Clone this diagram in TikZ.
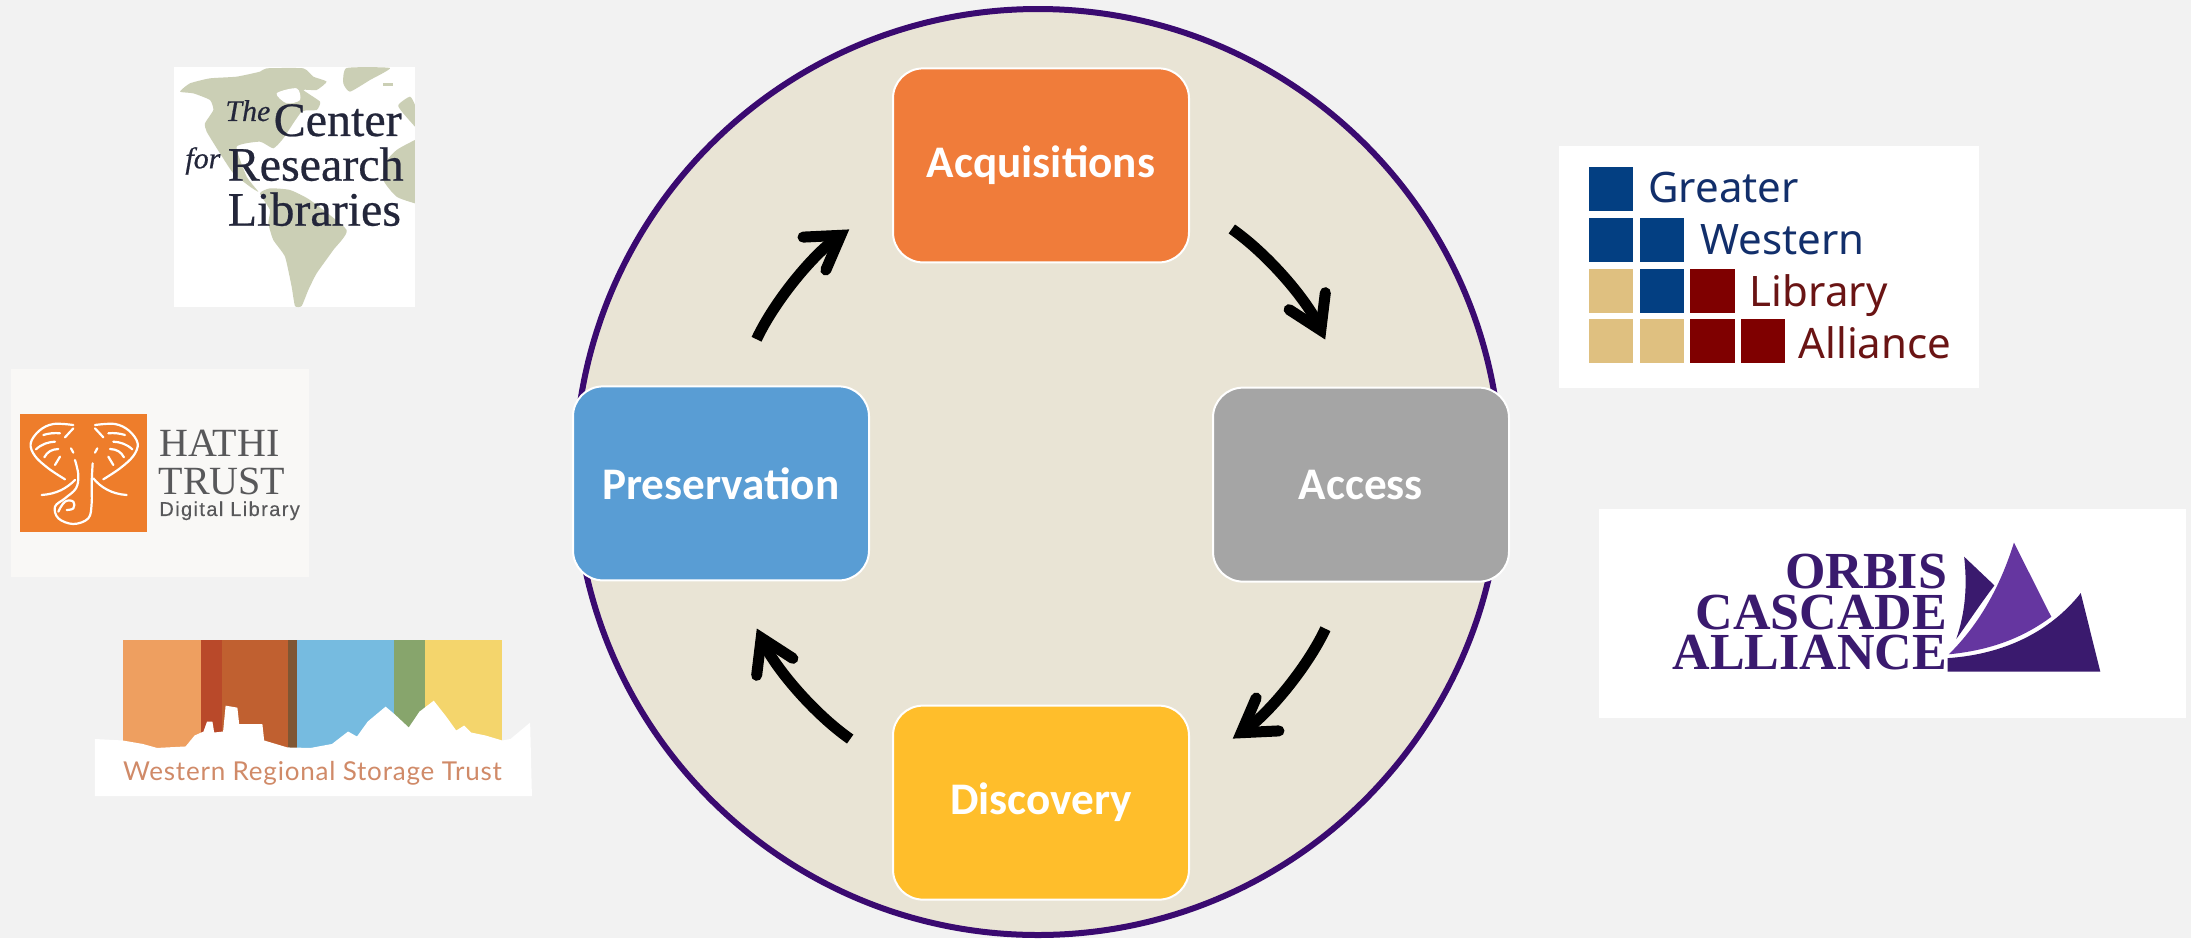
\documentclass[tikz,border=0pt]{standalone}
\usepackage{fontspec}
\setmainfont{Carlito}
\newfontfamily\serifface{Liberation Serif}
\newfontfamily\crlface[FakeBold=0.5]{Liberation Serif}
\newfontfamily\hathiface[FakeBold=0.3,LetterSpace=7]{Liberation Sans}
\newfontfamily\gwlaface{Noto Sans}
\newfontfamily\wrstface[LetterSpace=3]{Lato}
\usetikzlibrary{matrix,arrows.meta}
\definecolor{pagegray}{HTML}{F2F2F2}
\definecolor{circlefill}{HTML}{E9E4D5}
\definecolor{circleline}{HTML}{3A0A70}
\definecolor{acqorange}{HTML}{F07C3A}
\definecolor{accessgray}{HTML}{A5A5A5}
\definecolor{discyellow}{HTML}{FFBE2B}
\definecolor{presblue}{HTML}{599DD4}
\definecolor{mapgreen}{HTML}{CBCFB5}
\definecolor{crlink}{HTML}{23263A}
\definecolor{hathicard}{HTML}{F9F8F6}
\definecolor{hathiorange}{HTML}{EE7D2B}
\definecolor{hathiink}{HTML}{58585A}
\definecolor{gwlablue}{HTML}{033F82}
\definecolor{gwlatan}{HTML}{DFC080}
\definecolor{gwlared}{HTML}{7F0000}
\definecolor{gwlabluetext}{HTML}{122F6B}
\definecolor{gwlaredtext}{HTML}{6A1414}
\definecolor{orbisdark}{HTML}{3A1A6E}
\definecolor{orbislight}{HTML}{6536A0}
\definecolor{wrstink}{HTML}{D08A68}
\tikzset{
  cyclebox/.style={draw=white, line width=1pt, rounded corners=15pt, minimum width=148pt,
    minimum height=97pt, inner sep=0pt, text=white, font=\fontsize{22.6}{27}\selectfont\bfseries},
  cyclearrow/.style={line width=5.5pt, shorten <=25.5pt, shorten >=26pt,
    -{Straight Barb[length=16pt, width=20pt, line cap=round, line join=miter]}},
  logotext/.style={anchor=base west, inner sep=0pt},
  elephantline/.style={draw=white, line width=1.1pt, line cap=round, line join=round}
}
\begin{document}
\begin{tikzpicture}[x=0.5pt, y=-0.5pt]
  \useasboundingbox (0,0) rectangle (2191,938);
  \fill[pagegray] (0,0) rectangle (2191,938);
  \draw[fill=circlefill, draw=circleline, line width=3pt] (1038,472) circle [radius=463];

  % cycle of four boxes
  \matrix (m) at (1041,484) [matrix of nodes, row sep=61pt, column sep=11pt, nodes={cyclebox}]
  {
     & |[fill=acqorange]| Acquisitions & \\
    |[fill=presblue]| Preservation & & |[fill=accessgray]| Access \\
     & |[fill=discyellow]| Discovery & \\ };
  \path[cyclearrow]
  (m-1-2.-13) edge [bend left=15] (m-2-3.98)
  (m-2-3.262) edge [bend left=15] (m-3-2.13)
  (m-3-2.167) edge [bend left=15] (m-2-1.278)
  (m-2-1.82) edge [bend left=15] (m-1-2.193);

  % Center for Research Libraries
  \begin{scope}[shift={(170,60)}, scale=.3333]
    \fill[white] (12,22) rectangle (735,740);
    \fill[mapgreen] plot[smooth cycle, tension=.3] coordinates {(30,95) (60,70) (120,55) (200,50) (270,35)
      (290,25) (400,25) (430,50) (470,65) (440,90) (400,90) (450,125) (440,150) (395,155) (340,235)
      (310,265) (270,245) (200,260) (230,350) (265,395) (240,380) (190,340) (150,280) (110,215)
      (105,190) (130,150) (120,120) (70,100)};
    \fill[white] plot[smooth cycle, tension=.5] coordinates {(320,100) (380,85) (390,120) (350,130)};
    \fill[mapgreen] plot[smooth cycle, tension=.3] coordinates {(270,400) (300,385) (360,390) (420,420)
      (530,510) (490,570) (440,640) (415,690) (395,738) (375,738) (365,680) (345,590) (310,540) (295,490) (300,450)};
    \fill[mapgreen] plot[smooth cycle, tension=.3] coordinates {(530,24) (660,24) (600,60) (540,95) (520,70)};
    \fill[mapgreen] plot[smooth, tension=.4] coordinates {(735,240) (680,270) (645,310) (640,360) (680,410) (735,430)};
    \fill[mapgreen] plot[smooth, tension=.4] coordinates {(735,135) (720,110) (685,135) (700,160) (735,200)};
    \fill[mapgreen] (640,70) rectangle (670,78);
    \node[logotext, text=crlink, font=\crlface\itshape\fontsize{15}{15}\selectfont] (crlthe) at (165,183) {The};
    \node[logotext, text=crlink, font=\crlface\fontsize{24}{24}\selectfont] (crlcenter) at (310,228) {Center};
    \node[logotext, text=crlink, font=\crlface\itshape\fontsize{15}{15}\selectfont] (crlfor) at (45,325) {for};
    \node[logotext, text=crlink, font=\crlface\fontsize{24}{24}\selectfont] (crlresearch) at (172,362) {Research};
    \node[logotext, text=crlink, font=\crlface\fontsize{24}{24}\selectfont] (crllibraries) at (172,497) {Libraries};
  \end{scope}

  % HathiTrust
  \fill[hathicard] (11,369) rectangle (309,577);
  \begin{scope}[shift={(10,400)}, scale=.3333]
    \fill[hathiorange] (30,42) rectangle (410,397);
    \foreach \flip in {0,1} {
      \begin{scope}[shift={(445*\flip,0)}, xscale=1-2*\flip]
        \draw[elephantline] plot[smooth, tension=.6] coordinates {(190,75) (130,72) (88,92) (62,130)
          (75,168) (115,205) (165,238)};
        \draw[elephantline] (190,85) -- (165,112);
        \draw[elephantline] (183,145) -- (190,158);
        \draw[elephantline] (78,148) .. controls (95,132) and (115,126) .. (135,125);
        \draw[elephantline] (103,172) .. controls (112,155) and (125,148) .. (145,147);
        \draw[elephantline] (135,195) -- (150,170);
        \draw[elephantline] (100,105) .. controls (115,100) and (135,98) .. (150,100);
      \end{scope}
    }
    % trunk with its spiral
    \draw[elephantline] plot[smooth, tension=.6] coordinates {(195,180) (205,225) (198,265) (165,295)
      (135,320) (145,355) (190,372) (235,355) (245,310) (245,250) (248,190)};
    \draw[elephantline] plot[smooth, tension=.7] coordinates {(145,335) (165,305) (190,305) (190,325) (170,330)};
    \draw[elephantline] (95,285) .. controls (140,282) and (170,265) .. (195,240);
    \draw[elephantline] (350,285) .. controls (305,282) and (272,262) .. (250,235);
    \node[logotext, text=hathiink, font=\serifface\fontsize{20}{20}\selectfont] (hathitop) at (447,170) {HATHI};
    \node[logotext, text=hathiink, font=\serifface\fontsize{20}{20}\selectfont] (hathimid) at (445,285) {TRUST};
    \node[logotext, text=hathiink, font=\hathiface\fontsize{10}{10}\selectfont] (hathilow) at (447,348) {Digital Library};
  \end{scope}

  % Western Regional Storage Trust
  \begin{scope}[shift={(0,40)}, xscale=.357, yscale=.4975]
    \foreach \left/\right/\stripe in {344/562/EE9F60, 562/623/B9492A, 623/806/C06030, 806/833/7F5633,
      833/1104/76BBE0, 1104/1190/87A56C, 1190/1407/F4D56C} {
      \definecolor{stripecolor}{HTML}{\stripe}
      \fill[stripecolor] (\left,1206) rectangle (\right,1440);
    }
    \fill[white] (266,1405) -- (344,1408) -- (400,1415) -- (440,1423) -- (520,1420) -- (545,1398)
      -- (570,1390) -- (580,1370) -- (595,1370) -- (600,1392) -- (625,1390) -- (632,1338) -- (665,1342)
      -- (670,1375) -- (735,1375) -- (740,1408) -- (805,1422) -- (870,1423) -- (930,1415) -- (975,1390)
      -- (1000,1400) -- (1030,1370) -- (1080,1340) -- (1105,1355) -- (1145,1382) -- (1175,1350)
      -- (1215,1328) -- (1250,1360) -- (1278,1388) -- (1300,1378) -- (1320,1392) -- (1360,1398)
      -- (1407,1408) -- (1430,1405) -- (1485,1372) -- (1490,1520) -- (266,1520) -- cycle;
    \node[logotext, text=wrstink, font=\wrstface\fontsize{13}{13}\selectfont] (wrstname) at (344,1488) {Western Regional Storage Trust};
  \end{scope}

  % Greater Western Library Alliance
  \begin{scope}[shift={(1540,130)}, xscale=.415, yscale=.3827]
    \fill[white] (45,43) rectangle (1057,673);
    \foreach \col/\row/\shade in {117/96/gwlablue, 117/229/gwlablue, 240/229/gwlablue, 117/362/gwlatan,
      240/362/gwlablue, 362/362/gwlared, 117/494/gwlatan, 240/494/gwlatan, 362/494/gwlared, 484/494/gwlared} {
      \fill[\shade] (\col,\row) rectangle +(107,116);
    }
    \node[logotext, text=gwlabluetext, font=\gwlaface\fontsize{21}{21}\selectfont] (gwlagreater) at (260,190) {Greater};
    \node[logotext, text=gwlabluetext, font=\gwlaface\fontsize{21}{21}\selectfont] (gwlawestern) at (385,325) {Western};
    \node[logotext, text=gwlaredtext, font=\gwlaface\fontsize{21}{21}\selectfont] (gwlalibrary) at (505,460) {Library};
    \node[logotext, text=gwlaredtext, font=\gwlaface\fontsize{21}{21}\selectfont] (gwlaalliance) at (622,598) {Alliance};
  \end{scope}

  % Orbis Cascade Alliance
  \begin{scope}[shift={(1540,130)}, xscale=.415, yscale=.3827]
    \fill[white] (142,990) rectangle (1557,1537);
    \node[anchor=base east, inner sep=0pt, text=orbisdark, font=\serifface\bfseries\fontsize{26}{26}\selectfont] (orbisname) at (982,1197) {ORBIS};
    \node[anchor=base east, inner sep=0pt, text=orbisdark, font=\serifface\bfseries\fontsize{26}{26}\selectfont] (cascadename) at (982,1305) {CASCADE};
    \node[anchor=base east, inner sep=0pt, text=orbisdark, font=\serifface\bfseries\fontsize{26}{26}\selectfont] (alliancename) at (982,1410) {ALLIANCE};
    \fill[orbisdark] (1022,1115) -- (1095,1190) .. controls (1060,1240) and (1030,1290) .. (1003,1330) .. controls (1025,1260) and (1030,1190) .. cycle;
    \fill[orbislight] (1142,1078) -- (1232,1272) .. controls (1160,1330) and (1080,1360) .. (985,1370) .. controls (1060,1290) and (1110,1190) .. cycle;
    \fill[orbisdark] (1303,1210) -- (1350,1415) -- (982,1415) -- (982,1380) .. controls (1120,1370) and (1230,1310) .. cycle;
  \end{scope}
\end{tikzpicture}
\end{document}
